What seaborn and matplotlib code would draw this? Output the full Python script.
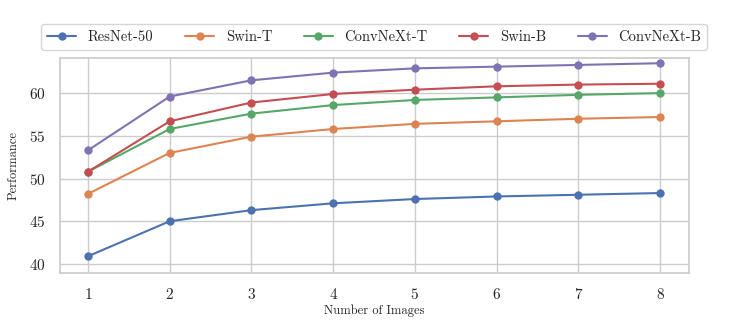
import pandas as pd
import matplotlib.pyplot as plt
import seaborn as sns

# values
num_images = [1, 2, 3, 4, 5, 6, 7, 8]
resnet50 = [40.9, 45.0, 46.3, 47.1, 47.6, 47.9, 48.1, 48.3]
swin_t = [48.2, 53.0, 54.9, 55.8, 56.4, 56.7, 57.0, 57.2]
convnext_t = [50.8, 55.8, 57.6, 58.6, 59.2, 59.5, 59.8, 60.0]
swin_b = [50.8, 56.7, 58.9, 59.9, 60.4, 60.8, 61.0, 61.1]
convnext_b = [53.3, 59.6, 61.5, 62.4, 62.9, 63.1, 63.3, 63.5]
models = ['ResNet-50', 'Swin-T', 'ConvNeXt-T', 'Swin-B', 'ConvNeXt-B']

series = [resnet50, swin_t, convnext_t, swin_b, convnext_b]
rows = []
for name, vals in zip(models, series):
    for n, v in zip(num_images, vals):
        rows.append({'Number of Images': n, 'Performance': v, 'Model': name})
df = pd.DataFrame(rows)

sns.set_theme(style='whitegrid', palette='deep')
plt.rcParams['font.family'] = ['cmr10', 'DejaVu Serif']
plt.rcParams['axes.formatter.use_mathtext'] = True
plt.rcParams['mathtext.fontset'] = 'cm'

fig = plt.figure(figsize=(7.47, 3.32), dpi=100)
ax = fig.add_axes([0.080, 0.178, 0.842, 0.647])

sns.lineplot(data=df, x='Number of Images', y='Performance', hue='Model',
             hue_order=models, marker='o', markersize=6, markeredgewidth=0,
             linewidth=1.5, ax=ax)

ax.set_xlim(0.655, 8.35)
ax.set_ylim(38.95, 64.1)
ax.set_xticks(num_images)
ax.set_yticks([40, 45, 50, 55, 60])
ax.tick_params(labelsize=11, pad=4)
ax.set_xlabel('Number of Images', fontsize=9, labelpad=2)
ax.set_ylabel('Performance', fontsize=9, labelpad=7)

ax.legend(loc='lower center', bbox_to_anchor=(0.5, 1.04), ncol=5,
          fontsize=10.5, frameon=True, handlelength=2.0, columnspacing=2.15,
          borderaxespad=0, borderpad=0.4)

fig.savefig('out.png', dpi=100)
